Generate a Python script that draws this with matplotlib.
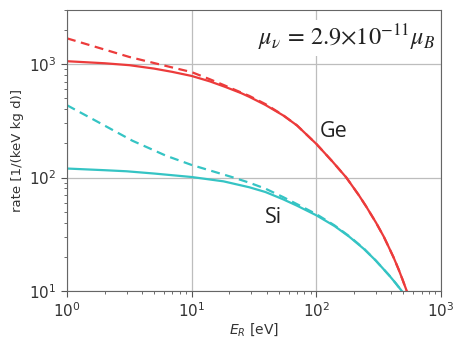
import matplotlib.pyplot as plt

# Ge recoil spectrum, energies in eV, rates in 1/(keV kg d)
ge_energy = [1, 2, 3.16, 5, 7, 10, 14, 18.6, 25, 29, 39, 54, 70, 100, 135, 174, 219, 251, 302,
             347, 380, 417, 457, 490, 531]
ge_solid = [1062, 1019, 980, 914, 855, 787, 705, 630, 555, 515, 437, 354, 288, 198, 138, 100, 70,
            55.6, 39.8, 30.2, 24.5, 19.7, 15.5, 12.7, 10]
ge_dashed = [1690, 1346, 1158, 1023, 935, 851, 736, 646, 562, 525, 445, 356, 288, 198, 138, 100, 70,
             55.6, 39.8, 30.2, 24.5, 19.7, 15.5, 12.7, 10]

# Si recoil spectrum
si_energy = [1, 2, 3, 5, 10, 18, 29, 39, 54, 70, 100, 140, 184, 240, 300, 384, 430, 484]
si_solid = [120, 116, 113.5, 108.4, 101, 92.5, 82, 74.5, 64.3, 56.4, 46.4, 37.3, 30, 23.5, 18.5,
            13.7, 11.8, 10]
si_dashed_energy = [1, 1.81, 3.35, 6.2, 10, 21, 29, 39, 54, 70, 100, 140, 184, 240, 300, 384, 430, 484]
si_dashed = [434, 305, 211, 156, 129, 101, 90, 79.8, 67.3, 58.2, 47.5, 37.8, 30.3, 23.7, 18.5,
             13.7, 11.8, 10]

red = '#ec3b3b'
cyan = '#35c4c4'

fig = plt.figure(figsize=(4.56, 3.37), dpi=100)
ax = fig.add_axes([0.147, 0.137, 0.82, 0.833])

ax.plot(ge_energy, ge_solid, color=red, lw=1.6)
ax.plot(ge_energy, ge_dashed, color=red, lw=1.6, ls='--', dashes=(4, 2.5))
ax.plot(si_energy, si_solid, color=cyan, lw=1.6)
ax.plot(si_dashed_energy, si_dashed, color=cyan, lw=1.6, ls='--', dashes=(4, 2.5))

ax.set_xscale('log')
ax.set_yscale('log')
ax.set_xlim(1, 1000)
ax.set_ylim(10, 3000)
ax.grid(True, which='major', color='#bdbdbd', lw=0.9)

for s in ax.spines.values():
    s.set_color('#666666')
ax.tick_params(which='both', colors='#555555', labelcolor='#333333')
ax.tick_params(which='major', labelsize=11, length=4)
ax.tick_params(which='minor', length=2.5)

ax.set_xlabel('$E_R$ [eV]', fontsize=10, color='#333333', labelpad=1)
ax.set_ylabel('rate [1/(keV kg d)]', fontsize=9.5, color='#333333')

ax.text(0.985, 0.955, r'$\mu_\nu\,=\,2.9{\times}10^{-11}\mu_B$', transform=ax.transAxes,
        ha='right', va='top', fontsize=17.5, color='#222222', math_fontfamily='stix',
        bbox=dict(facecolor='white', edgecolor='none', pad=2))

ax.text(0.676, 0.548, 'Ge', transform=ax.transAxes, fontsize=15.5, va='baseline',
        family='Open Sans', color='#222222')
ax.text(0.529, 0.242, 'Si', transform=ax.transAxes, fontsize=15.5, va='baseline',
        family='Open Sans', color='#222222')

fig.savefig('out.png', dpi=100)
